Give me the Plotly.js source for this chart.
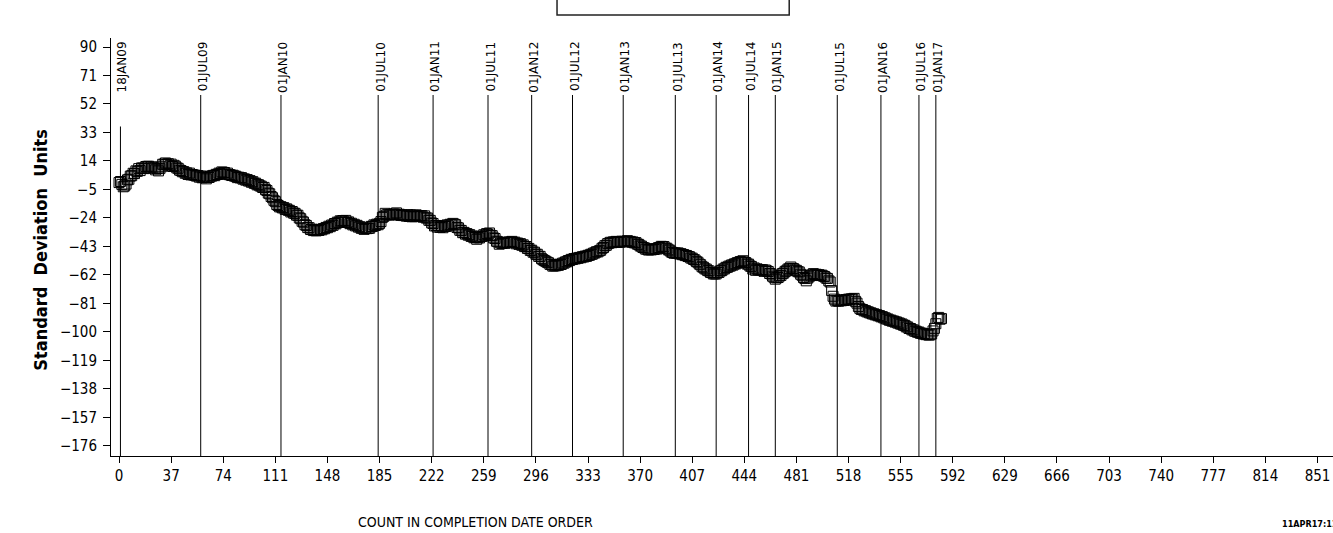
<!DOCTYPE html>
<html><head><meta charset="utf-8">
<script src="https://cdn.plot.ly/plotly-3.0.1.min.js"></script>
<style>html,body{margin:0;padding:0;background:#fff}#chart{width:1333px;height:533px}</style>
</head><body><div id="chart"></div>
<script>
// Standard deviation units, one value per count (completion-date order)
const sdUnits = [
-0.4,0.3,-1.6,-3.2,-2.6,-1.4,1.4,1.8,3.9,4.2,
5.8,5.6,7.4,7.1,8.9,7.6,9.4,9.2,8.9,10.3,
10.4,10.5,9.2,10.1,9.8,9.3,8.1,9.0,7.4,8.9,
10.1,11.8,11.9,12.7,11.6,12.2,10.8,11.9,10.3,11.1,
10.5,9.4,9.1,7.9,7.6,6.8,6.9,5.8,6.1,5.0,
5.9,4.7,5.0,4.6,4.5,3.9,4.3,3.2,4.0,2.8,
3.1,3.5,2.1,3.0,3.0,3.9,4.0,4.4,4.2,5.1,
5.0,5.9,5.6,6.7,6.4,6.3,5.1,5.9,4.9,4.8,
4.3,4.5,3.9,3.8,2.9,3.2,2.7,2.9,1.9,2.1,
1.2,1.6,0.6,0.9,-0.2,0.2,-0.9,-0.8,-1.9,-1.8,
-2.6,-2.8,-3.7,-3.6,-5.1,-5.7,-7.4,-7.9,-9.7,-10.5,
-12.2,-13.1,-15.0,-15.7,-16.6,-16.5,-17.3,-17.1,-18.3,-17.9,
-18.8,-18.9,-20.0,-19.7,-20.8,-20.9,-22.1,-22.2,-23.9,-24.5,
-26.2,-26.8,-28.5,-29.0,-30.4,-30.5,-31.7,-31.5,-32.4,-32.1,
-32.6,-32.2,-32.3,-31.6,-31.9,-31.1,-31.2,-30.3,-30.5,-29.5,
-29.8,-28.7,-28.9,-27.7,-27.9,-26.8,-26.9,-25.9,-26.1,-25.7,
-26.7,-25.6,-27.0,-26.6,-27.8,-27.5,-28.6,-28.2,-29.3,-28.9,
-30.1,-29.8,-30.9,-30.6,-31.6,-30.7,-31.1,-30.9,-30.8,-29.6,
-29.7,-28.6,-29.0,-28.1,-28.5,-27.6,-26.4,-23.6,-22.9,-20.9,
-21.9,-21.8,-22.1,-21.6,-21.7,-21.3,-21.5,-20.6,-21.9,-21.5,
-22.3,-22.0,-22.4,-22.2,-22.8,-21.8,-23.0,-22.0,-23.2,-22.2,
-23.1,-21.9,-22.9,-22.5,-22.8,-22.4,-23.5,-22.6,-24.0,-24.0,
-25.5,-25.6,-27.3,-27.7,-29.3,-29.0,-30.1,-29.1,-30.3,-29.5,
-30.5,-29.4,-29.7,-28.6,-29.3,-28.2,-28.6,-27.6,-28.1,-28.5,
-30.3,-30.6,-32.2,-32.3,-33.8,-33.6,-34.8,-34.4,-35.5,-35.1,
-36.3,-36.0,-37.2,-37.0,-38.2,-37.1,-37.3,-36.2,-36.3,-35.2,
-35.5,-34.4,-34.9,-34.0,-35.6,-35.8,-37.3,-37.7,-39.5,-39.9,
-41.5,-40.6,-41.0,-40.5,-40.9,-40.1,-40.5,-40.0,-40.2,-39.6,
-40.4,-40.1,-41.2,-40.7,-41.6,-41.1,-42.2,-41.9,-43.1,-43.0,
-44.3,-44.3,-45.6,-45.5,-46.8,-46.8,-48.2,-48.2,-49.6,-49.6,
-51.1,-51.8,-52.4,-52.9,-53.5,-53.9,-54.9,-55.1,-56.1,-55.9,
-55.9,-55.3,-55.6,-54.8,-55.0,-54.1,-54.1,-53.3,-53.2,-52.4,
-52.4,-51.6,-51.7,-51.1,-51.3,-50.7,-50.9,-50.3,-50.5,-49.8,
-50.0,-49.4,-49.6,-48.9,-48.9,-48.2,-48.2,-47.4,-47.3,-46.5,
-46.6,-45.9,-45.5,-44.2,-43.7,-42.5,-42.2,-41.1,-40.8,-40.2,
-40.5,-39.9,-40.2,-39.6,-40.3,-39.7,-40.2,-39.5,-39.7,-39.6,
-39.7,-39.1,-39.8,-39.6,-40.2,-40.0,-40.6,-40.4,-41.4,-41.6,
-42.6,-42.8,-43.7,-43.9,-44.8,-44.8,-45.4,-44.7,-45.3,-44.8,
-45.0,-44.5,-44.7,-43.8,-43.7,-42.9,-43.0,-43.1,-44.1,-44.2,
-45.2,-45.5,-46.6,-47.0,-47.5,-47.3,-47.6,-47.3,-48.0,-47.8,
-48.5,-48.4,-49.1,-49.0,-49.7,-49.8,-50.7,-50.8,-51.7,-52.0,
-53.1,-53.5,-54.7,-55.2,-56.5,-56.9,-57.9,-58.1,-59.1,-59.3,
-60.3,-60.4,-61.3,-61.3,-61.3,-60.4,-60.3,-59.3,-59.1,-58.1,
-57.9,-56.9,-56.9,-56.1,-56.1,-55.3,-55.4,-54.6,-54.6,-53.8,
-53.9,-53.1,-53.2,-52.5,-53.5,-53.7,-54.7,-54.8,-56.0,-56.3,
-58.1,-57.3,-58.9,-57.9,-58.7,-58.6,-58.6,-58.5,-59.6,-58.7,
-59.3,-59.7,-61.0,-61.3,-62.8,-63.5,-64.8,-63.9,-63.7,-62.7,
-62.3,-61.1,-60.7,-59.6,-59.2,-58.1,-57.8,-56.7,-57.6,-57.8,
-58.7,-58.9,-59.8,-60.0,-61.5,-62.2,-63.7,-64.4,-65.9,-64.1,
-63.2,-62.2,-62.0,-61.1,-61.7,-61.5,-62.0,-61.8,-62.4,-62.1,
-62.7,-63.0,-64.0,-64.3,-65.9,-66.7,-72.4,-76.2,-78.1,-79.4,
-79.1,-79.5,-78.8,-79.2,-78.7,-79.0,-78.4,-78.8,-78.1,-78.3,
-77.9,-78.1,-77.6,-79.6,-80.8,-83.0,-84.2,-85.0,-85.0,-85.9,
-85.8,-86.6,-86.6,-87.3,-87.3,-88.0,-87.9,-88.6,-88.5,-89.2,
-89.1,-89.9,-89.8,-90.6,-90.6,-91.4,-91.4,-92.2,-92.1,-92.8,
-92.7,-93.4,-93.3,-94.1,-94.0,-94.8,-94.7,-95.5,-95.6,-96.6,
-96.7,-97.7,-97.7,-98.6,-98.6,-99.5,-99.5,-100.2,-100.1,-100.9,
-100.8,-101.4,-101.2,-101.8,-101.6,-102.1,-101.9,-101.3,-99.3,-97.6,
-94.5,-91.0,-90.3,-91.5,-91.1
];
const counts = sdUnits.map((v, i) => i);

// Reference dates and their position on the count axis
const refDates = ["18JAN09","01JUL09","01JAN10","01JUL10","01JAN11","01JUL11","01JAN12","01JUL12",
  "01JAN13","01JUL13","01JAN14","01JUL14","01JAN15","01JUL15","01JAN16","01JUL16","01JAN17"];
const refCounts = [1,58,115,184,223,262,293,322,358,395,424,447,466,510,541,568,580];
const refLineTop = [37,58,58,58,58,58,58,58,58,58,58,58,58,58,58,58,58];

const xTicks = [0,37,74,111,148,185,222,259,296,333,370,407,444,481,518,555,592,629,666,703,740,777,814,851];
const yTicks = [90,71,52,33,14,-5,-24,-43,-62,-81,-100,-119,-138,-157,-176];

const yMin = -182.7, yMax = 96;
const narrow = "Liberation Sans Narrow, DejaVu Sans Condensed, Arial Narrow, sans-serif";

const lx = [], ly = [];
refCounts.forEach((c, i) => { lx.push(c, c, null); ly.push(yMin, refLineTop[i], null); });

const traces = [
  {x: lx, y: ly, mode: "lines", line: {color: "#000", width: 1}, hoverinfo: "skip", showlegend: false},
  {x: counts, y: sdUnits, mode: "markers", showlegend: false,
   marker: {symbol: "square-open", size: 10, color: "#000", line: {width: 1, color: "#111"}}}
];

const annotations = refDates.map((d, i) => ({
  x: refCounts[i], y: yMax - 1, xref: "x", yref: "y", text: d, showarrow: false,
  textangle: -90, xanchor: "center", yanchor: "top", xshift: 2,
  font: {family: "DejaVu Sans, sans-serif", size: 12, color: "#000"}
}));
annotations.push(
  {xref: "paper", yref: "paper", x: -0.0575, y: 0.493, text: "<b>Standard  Deviation  Units</b>",
   showarrow: false, textangle: -90, xanchor: "center", yanchor: "middle",
   font: {family: "DejaVu Sans Condensed, sans-serif", size: 18, color: "#000"}},
  {xref: "paper", yref: "paper", x: 0.2986, y: -0.158, text: "COUNT IN COMPLETION DATE ORDER",
   showarrow: false, xanchor: "center", yanchor: "middle",
   font: {family: narrow, size: 14, color: "#000"}},
  {xref: "paper", yref: "paper", x: 0.9565, y: -0.163, text: "<b>11APR17:11:27</b>",
   showarrow: false, xanchor: "left", yanchor: "middle",
   font: {family: narrow, size: 9, color: "#000"}}
);

const layout = {
  width: 1333, height: 533,
  margin: {l: 111, r: 0, t: 38, b: 77, pad: 0},
  paper_bgcolor: "#fff", plot_bgcolor: "#fff",
  showlegend: false,
  xaxis: {range: [-5.7, 862], tickvals: xTicks, ticktext: xTicks.map(String),
    showgrid: false, zeroline: false, showline: true, linecolor: "#000", linewidth: 1,
    ticks: "outside", ticklen: 6, tickcolor: "#000", tickfont: {family: narrow, size: 15, color: "#000"}},
  yaxis: {range: [yMin, yMax], tickvals: yTicks, ticktext: yTicks.map(v => v < 0 ? "\u2212" + Math.abs(v) : String(v)),
    showgrid: false, zeroline: false, showline: true, linecolor: "#000", linewidth: 1,
    ticks: "outside", ticklen: 7, tickcolor: "#000", ticklabelstandoff: 3,
    tickfont: {family: narrow, size: 15, color: "#000"}},
  shapes: [
    {type: "rect", xref: "paper", yref: "paper", x0: 0.365, x1: 0.555, y0: 1.055, y1: 1.2,
     line: {color: "#222", width: 1.5}, fillcolor: "rgba(0,0,0,0)"}
  ],
  annotations: annotations
};

Plotly.newPlot("chart", traces, layout, {staticPlot: true, displayModeBar: false});
</script></body></html>
